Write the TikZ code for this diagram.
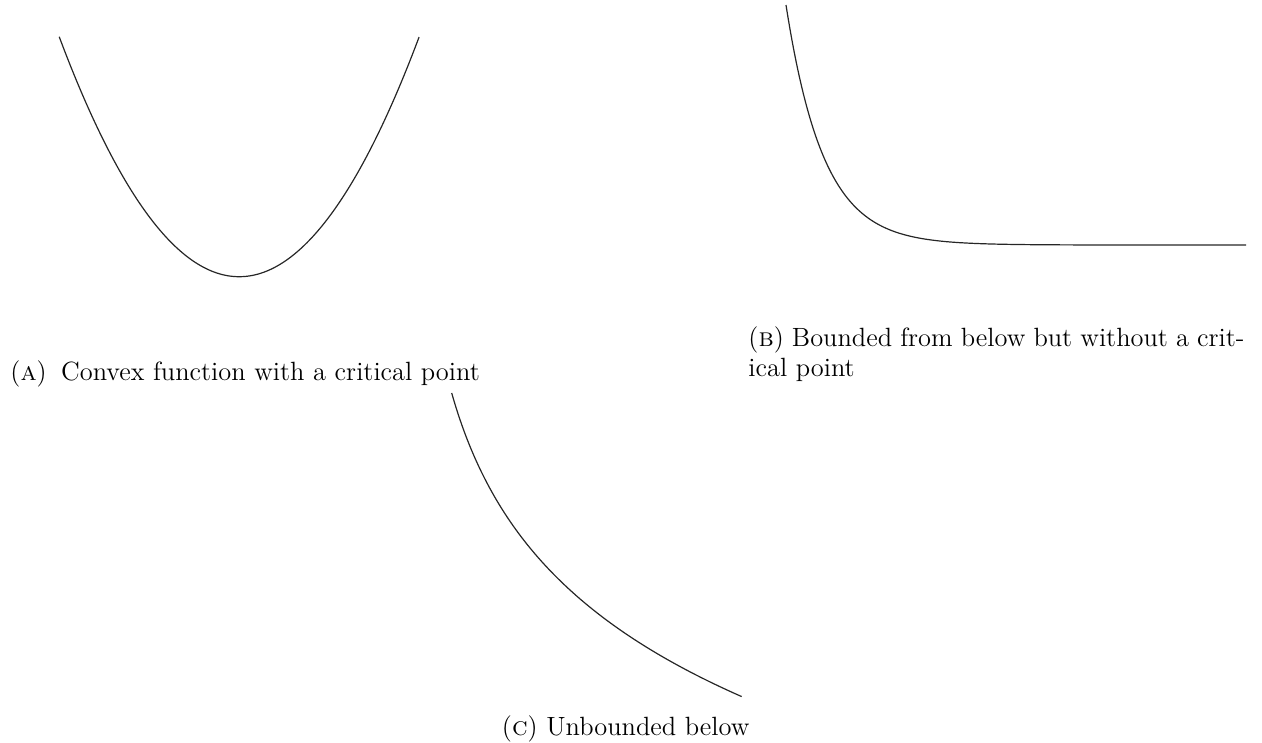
\documentclass[tikz,border=0pt]{standalone}
\usepackage{tikz}
\begin{document}
\begin{tikzpicture}[x=0.41667pt,y=-0.41667pt,
  curveline/.style={line width=0.5pt, black!85},
  captext/.style={inner sep=0pt, font=\fontsize{11}{13.6}\selectfont}]
\useasboundingbox (0,0) rectangle (1262,742);
% (A) parabola
\draw[curveline] plot[domain=-1:1, samples=120, smooth] ({239.2+180*\x},{276.7-240*\x*\x});
% (B) exponential decay
\draw[curveline] plot[domain=0:460, samples=240, smooth] ({786+\x},{245-240*exp(-0.0266*\x)});
% (C) -log
\draw[curveline] plot[domain=0.5:4, samples=150, smooth] ({451.7+(\x-0.5)*82.86},{393+146*ln(\x/0.5)});
% captions
\node[captext, anchor=base west] (capA) at (10,380) {(\textsc{a})\hspace{6pt}Convex function with a critical point};
\node[captext, anchor=base west] (capB) at (748,346.7) {\makebox[206.7pt][s]{(\textsc{b}) Bounded from below but without a crit-}};
\node[captext, anchor=base west] (capB2) at (748,376) {ical point};
\node[captext, anchor=base east] (capC) at (750,735) {(\textsc{c}) Unbounded below};
\end{tikzpicture}
\end{document}
